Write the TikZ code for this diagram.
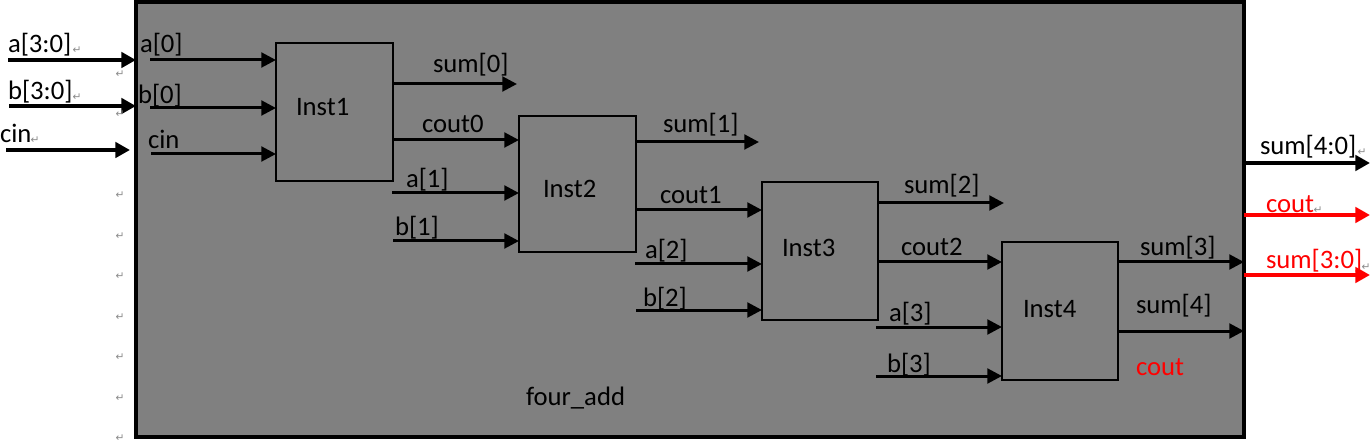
\documentclass[tikz,border=0pt]{standalone}
\usepackage{fontspec}
\setmainfont{Carlito}
\newfontfamily\markfont{DejaVu Sans}
\usetikzlibrary{arrows.meta}
\definecolor{boxgray}{HTML}{808080}
\definecolor{markgray}{HTML}{8A8A8A}
\tikzset{
  lbl/.style={inner sep=0pt, outer sep=0pt, anchor=base west, font=\fontsize{20}{21}\selectfont},
  redlbl/.style={lbl, text=red},
  instbox/.style={draw=black, line width=2.2pt, inner sep=0pt, outer sep=0pt},
  wire/.style={line width=2.25pt, -{Triangle[length=11pt,width=11pt]}},
  bigwire/.style={line width=3pt, -{Triangle[length=11pt,width=11.5pt]}},
  redwire/.style={bigwire, draw=red, -{Triangle[length=11pt,width=11.5pt,fill=red]}},
  pmark/.style={inner sep=0pt, text=markgray, font=\markfont\fontsize{8}{8}\selectfont},
}
\begin{document}
\begin{tikzpicture}[x=0.75pt,y=-0.75pt]
\useasboundingbox (0,0) rectangle (1372,442);

% outer module
\node[draw=black, fill=boxgray, line width=3pt, inner sep=0pt, outer sep=0pt,
      minimum width=831pt, minimum height=326.25pt] (top) at (690,219.5) {};

% instances
\node[instbox, minimum width=87.75pt, minimum height=103.5pt] (i1) at (334.5,112) {};
\node[instbox, minimum width=87.75pt, minimum height=102pt]   (i2) at (577.5,184) {};
\node[instbox, minimum width=87pt,    minimum height=103.5pt] (i3) at (820,251) {};
\node[instbox, minimum width=87pt,    minimum height=103.5pt] (i4) at (1060,311) {};

\node[lbl] (t1) at (296,116) {Inst1};
\node[lbl] (t2) at (543,198) {Inst2};
\node[lbl] (t3) at (782,257) {Inst3};
\node[lbl] (t4) at (1023,317) {Inst4};
\node[lbl] (tm) at (526,405) {four\_add};

% outer inputs
\coordinate (ia) at (8,60);
\coordinate (ib) at (9,106);
\coordinate (ic) at (6,150);
\coordinate (icend) at (130,150);
\draw[bigwire] (ia) -- (ia -| top.west);
\draw[bigwire] (ib) -- (ib -| top.west);
\draw[bigwire] (ic) -- (icend);
\node[lbl] (la) at (8,53) {a[3:0]};
\node[lbl] (lb) at (8,100) {b[3:0]};
\node[lbl] (lc) at (0,143) {cin};

% Inst1 inputs
\coordinate (a0) at (150,60);
\coordinate (b0) at (150,108);
\coordinate (c0) at (151,154);
\draw[wire] (a0) -- (a0 -| i1.west);
\draw[wire] (b0) -- (b0 -| i1.west);
\draw[wire] (c0) -- (c0 -| i1.west);
\node[lbl] (la0) at (140,53) {a[0]};
\node[lbl] (lb0) at (138,104) {b[0]};
\node[lbl] (lc0) at (148,149) {cin};

% Inst1 outputs / Inst2 inputs
\coordinate (s0) at (517,84);
\draw[wire] (i1.east |- s0) -- (s0);
\coordinate (co0) at (393,140);
\draw[wire] (co0) -- (co0 -| i2.west);
\coordinate (a1) at (392,193);
\coordinate (b1) at (393,241);
\draw[wire] (a1) -- (a1 -| i2.west);
\draw[wire] (b1) -- (b1 -| i2.west);
\node[lbl] (ls0) at (433,73) {sum[0]};
\node[lbl] (lco0) at (422,133) {cout0};
\node[lbl] (la1) at (406,188) {a[1]};
\node[lbl] (lb1) at (395,236) {b[1]};

% Inst2 outputs / Inst3 inputs
\coordinate (s1) at (759,142);
\draw[wire] (i2.east |- s1) -- (s1);
\coordinate (co1) at (636,210);
\draw[wire] (co1) -- (co1 -| i3.west);
\coordinate (a2) at (635,264);
\coordinate (b2) at (636,310);
\draw[wire] (a2) -- (a2 -| i3.west);
\draw[wire] (b2) -- (b2 -| i3.west);
\node[lbl] (ls1) at (663,133) {sum[1]};
\node[lbl] (lco1) at (660,204) {cout1};
\node[lbl] (la2) at (645,259) {a[2]};
\node[lbl] (lb2) at (643,306) {b[2]};

% Inst3 outputs / Inst4 inputs
\coordinate (s2) at (1004,203);
\draw[wire] (i3.east |- s2) -- (s2);
\coordinate (co2) at (878,262);
\draw[wire] (co2) -- (co2 -| i4.west);
\coordinate (a3) at (876,327);
\coordinate (b3) at (876,376);
\draw[wire] (a3) -- (a3 -| i4.west);
\draw[wire] (b3) -- (b3 -| i4.west);
\node[lbl] (ls2) at (904,194) {sum[2]};
\node[lbl] (lco2) at (901,256) {cout2};
\node[lbl] (la3) at (889,321) {a[3]};
\node[lbl] (lb3) at (887,372) {b[3]};

% Inst4 outputs
\coordinate (s3) at (1118,262);
\coordinate (s4) at (1118,331);
\draw[wire] (i4.east |- s3) -- (s3 -| top.east);
\draw[wire] (i4.east |- s4) -- (s4 -| top.east);
\node[lbl] (ls3) at (1140,256) {sum[3]};
\node[lbl] (ls4) at (1136,314) {sum[4]};
\node[redlbl] (lco) at (1136,375) {cout};

% outer outputs
\coordinate (os) at (1370,163);
\coordinate (oc) at (1370,215);
\coordinate (osr) at (1370,275);
\draw[bigwire] (os -| top.east) -- (os);
\draw[redwire] (oc -| top.east) -- (oc);
\draw[redwire] (osr -| top.east) -- (osr);
\node[lbl] (los) at (1260,155) {sum[4:0]};
\node[redlbl] (loc) at (1266,213) {cout};
\node[redlbl] (losr) at (1266,268) {sum[3:0]};

% paragraph marks
\foreach \px/\py [count=\k] in {77/50,120/74,77/97,120/114,35/140,120/195,120/236,120/276,120/317,120/357,120/398,120/438,1362/152,1318/210,1366/267}
  \node[pmark] (pm\k) at (\px,\py) {↵};
\end{tikzpicture}
\end{document}
